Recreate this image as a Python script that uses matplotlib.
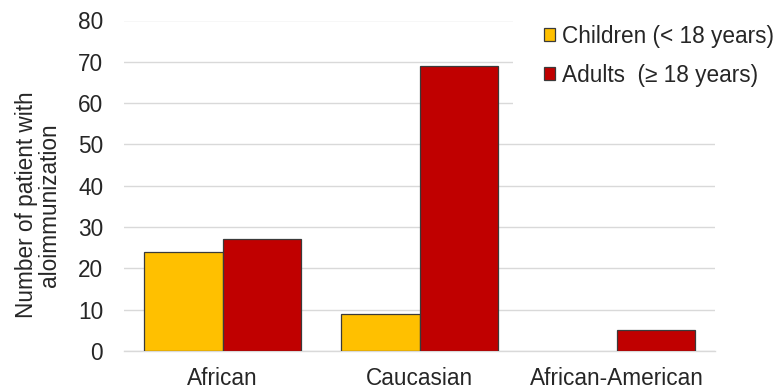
import matplotlib
matplotlib.use("Agg")
import matplotlib.pyplot as plt
import numpy as np

plt.rcParams['font.family'] = ['Liberation Sans', 'DejaVu Sans']

categories = ["African", "Caucasian", "African-American"]
children = [24, 9, 0]
adults = [27, 69, 5]
series_labels = ["Children (< 18 years)", "Adults  (\u2265 18 years)"]
y_ticks = [0, 10, 20, 30, 40, 50, 60, 70, 80]

fs = 16.3
fig = plt.figure(figsize=(7.8, 3.89), dpi=100)
ax = fig.add_axes([124 / 780, 1 - 351 / 389, (715 - 124) / 780, (351 - 20.5) / 389])

x = np.arange(len(categories))
w = 0.40
text_color = "#262626"
edge = "#3a3a3a"
b1 = ax.bar(x - w / 2, children, w, color="#FFC000", edgecolor=edge,
            linewidth=[0.9 if v > 0 else 0 for v in children], zorder=3)
b2 = ax.bar(x + w / 2, adults, w, color="#C00000", edgecolor=edge,
            linewidth=[0.9 if v > 0 else 0 for v in adults], zorder=3)

ax.set_xlim(-0.5, len(categories) - 0.5)
ax.set_ylim(0, 80)
ax.set_yticks(y_ticks)
ax.set_xticks(x)
ax.set_xticklabels(categories)
ax.yaxis.grid(True, color="#d9d9d9", linewidth=1.0, zorder=0)
ax.set_axisbelow(True)
for s in ["top", "right", "left"]:
    ax.spines[s].set_visible(False)
ax.spines["bottom"].set_color("#d9d9d9")
ax.spines["bottom"].set_linewidth(1.0)
ax.tick_params(axis="both", length=0, labelsize=fs, colors=text_color)
ax.tick_params(axis="y", pad=15)
ax.tick_params(axis="x", pad=11.5)

ax.set_ylabel("Number of patient with\naloimmunization", fontsize=fs, color=text_color,
              linespacing=1.0)
ax.yaxis.set_label_coords(-0.106, 0.442)

leg = fig.legend([b1, b2], series_labels, loc="upper left",
                 bbox_to_anchor=(513 / 780, 1 + 6 / 389), fontsize=fs,
                 frameon=True, framealpha=1, facecolor="white", edgecolor="none",
                 handlelength=0.52, handleheight=0.52, handletextpad=0.3,
                 labelspacing=0.72, borderpad=1.35, borderaxespad=0,
                 fancybox=False)
for t in leg.get_texts():
    t.set_color(text_color)
for h in leg.legend_handles:
    h.set_linewidth(0.9)

fig.savefig("out.png", dpi=100)
